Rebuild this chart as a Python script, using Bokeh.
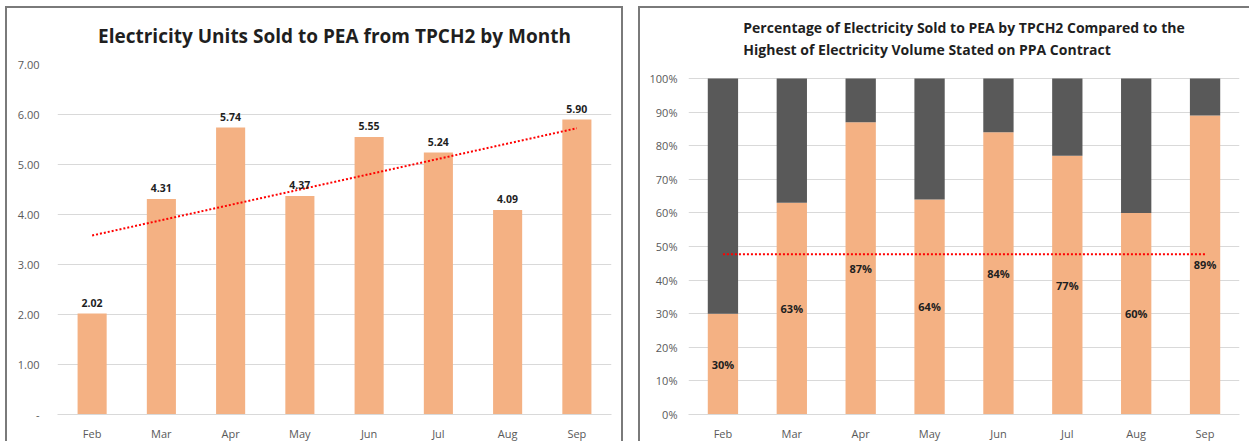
import numpy as np
from bokeh.plotting import figure
from bokeh.layouts import row
from bokeh.models import (ColumnDataSource, Range1d, FactorRange, FixedTicker,
                          LabelSet, Title, NumeralTickFormatter)
from bokeh.core.properties import value
from bokeh.embed import file_html
from bokeh.resources import INLINE

months = ["Feb", "Mar", "Apr", "May", "Jun", "Jul", "Aug", "Sep"]
units_sold = [2.02, 4.31, 5.74, 4.37, 5.55, 5.24, 4.09, 5.90]
pct_sold = [0.30, 0.63, 0.87, 0.64, 0.84, 0.77, 0.60, 0.89]
pct_rest = [1 - v for v in pct_sold]
ref_line = [0.477, 0.477, 0.477, 0.477, 0.477, 0.477, 0.477, 0.477]
units_ticks = [0, 1, 2, 3, 4, 5, 6, 7]
pct_ticks = [0, 0.1, 0.2, 0.3, 0.4, 0.5, 0.6, 0.7, 0.8, 0.9, 1.0]
title_left = "Electricity Units Sold to PEA from TPCH2 by Month"
title_right = ("Percentage of Electricity Sold to PEA by TPCH2 Compared to the\n"
               "Highest of Electricity Volume Stated on PPA Contract")

ORANGE = "#F4B183"
DARK = "#595959"
GRID = "#d9d9d9"
FONT = "Open Sans"
TICK_COLOR = "#595959"
TEXT = "#1f1f1f"
BORDER = "2px solid #7a7a7a"


def style(p):
    p.outline_line_color = None
    p.xgrid.grid_line_color = None
    p.ygrid.grid_line_color = GRID
    p.ygrid.grid_line_width = 1
    p.yaxis.axis_line_color = None
    p.xaxis.axis_line_color = GRID
    for ax in (p.xaxis, p.yaxis):
        ax.major_tick_line_color = None
        ax.minor_tick_line_color = None
        ax.major_tick_out = 0
        ax.major_tick_in = 0
        ax.minor_tick_out = 0
        ax.major_label_text_font = FONT
        ax.major_label_text_font_size = "11px"
        ax.major_label_text_color = TICK_COLOR
    p.xaxis.major_label_standoff = 11


# ---------- Left chart ----------
src1 = ColumnDataSource(dict(m=months, v=units_sold,
                             lbl=["%.2f" % v for v in units_sold]))
p1 = figure(x_range=FactorRange(*months, range_padding=0), y_range=Range1d(0, 7),
            width=618, height=435, output_backend="svg", toolbar_location=None,
            min_border_left=50, min_border_right=14, min_border_top=56,
            min_border_bottom=28)
style(p1)
p1.yaxis.ticker = FixedTicker(ticks=units_ticks)
p1.yaxis.formatter = NumeralTickFormatter(format="0.00")
p1.yaxis.major_label_overrides = {0: "-"}
p1.yaxis.major_label_standoff = 18
p1.vbar(x="m", top="v", width=0.42, source=src1, fill_color=ORANGE,
        line_color=None)
p1.add_layout(LabelSet(x="m", y="v", text="lbl", source=src1, y_offset=7,
                       text_align="center", text_baseline="bottom",
                       text_font=value(FONT), text_font_size="10.5px",
                       text_font_style="bold", text_color=TEXT))
coef = np.polyfit(np.arange(len(units_sold)), units_sold, 1)
trend = list(np.polyval(coef, np.arange(len(units_sold))))
p1.line(x=months, y=trend, line_color="#ff0000", line_width=2,
        line_dash="2 2")
p1.add_layout(Title(text=title_left, align="center", vertical_align="top",
                    text_font=FONT, text_font_size="19px",
                    text_font_style="bold", text_color=TEXT,
                    standoff=27), "above")
p1.styles = {"border-top": BORDER, "border-left": BORDER, "border-right": BORDER}
p1.margin = (6, 0, 0, 5)

# ---------- Right chart ----------
src2 = ColumnDataSource(dict(m=months, sold=pct_sold, rest=pct_rest,
                             mid=[v / 2 for v in pct_sold],
                             lbl=["%d%%" % round(v * 100) for v in pct_sold]))
p2 = figure(x_range=FactorRange(*months, range_padding=0),
            y_range=Range1d(0, 1.0418),
            width=611, height=435, output_backend="svg", toolbar_location=None,
            min_border_left=48, min_border_right=12, min_border_top=56,
            min_border_bottom=28)
style(p2)
p2.yaxis.ticker = FixedTicker(ticks=pct_ticks)
p2.yaxis.formatter = NumeralTickFormatter(format="0%")
p2.yaxis.major_label_standoff = 11
p2.vbar_stack(["sold", "rest"], x="m", width=0.44, source=src2,
              fill_color=[ORANGE, DARK], line_color=None)
p2.add_layout(LabelSet(x="m", y="mid", text="lbl", source=src2,
                       text_align="center", text_baseline="middle",
                       text_font=value(FONT), text_font_size="11px",
                       text_font_style="bold", text_color=TEXT))
p2.line(x=months, y=ref_line, line_color="#ff0000", line_width=2,
        line_dash="2 2")
p2.add_layout(Title(text=title_right, align="center",
                    text_font=FONT, text_font_size="14px",
                    text_font_style="bold", text_color=TEXT,
                    text_line_height=1.18, standoff=10), "above")
p2.styles = {"border-top": BORDER, "border-left": BORDER}
p2.margin = (6, 0, 0, 15)

layout = row(p1, p2, spacing=0)
open("out.html", "w").write(file_html(layout, INLINE))
